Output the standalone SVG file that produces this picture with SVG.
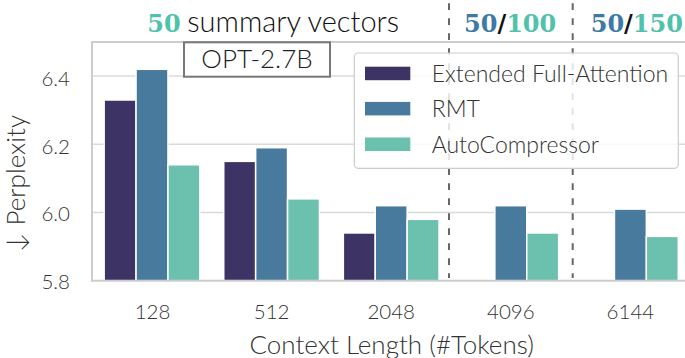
<svg xmlns="http://www.w3.org/2000/svg" width="685" height="358" viewBox="0 0 685 358">
<style>
.grid{stroke:#dadada;stroke-width:1.5;fill:none}
.spine{stroke:#cccccc;stroke-width:2;fill:none}
.sep{stroke:#666666;stroke-width:2;stroke-dasharray:6.7 8.3;fill:none}
.bar{stroke:#ffffff;stroke-width:1.5}
.efa{fill:#3d3465}
.rmt{fill:#487a9e}
.ac{fill:#6cc0ae}
.sans{font-family:Lato,"Open Sans",sans-serif;font-weight:300}
.tick{font-size:20.5px;fill:#333333}
.lab{font-size:26px;fill:#333333}
.leg{font-size:23px;fill:#333333}
.ttl{font-size:29px;fill:#111111}
.num{font-family:"DejaVu Serif",serif;font-weight:bold;font-size:24px}
.tl{fill:#50c2ac}
.bl{fill:#3e7aa6}
</style>
<rect width="685" height="358" fill="#ffffff"/>
<g id="grid">
<line class="grid" x1="92" y1="76.1" x2="685" y2="76.1"/>
<line class="grid" x1="92" y1="144.3" x2="685" y2="144.3"/>
<line class="grid" x1="92" y1="212.5" x2="685" y2="212.5"/>
</g>
<g id="bars-efa">
<rect class="bar efa" x="104.15" y="100.0" width="31.9" height="180.7"/>
<rect class="bar efa" x="223.75" y="161.35" width="31.9" height="119.35"/>
<rect class="bar efa" x="343.35" y="232.96" width="31.9" height="47.74"/>
</g>
<g id="bars-rmt">
<rect class="bar rmt" x="136.05" y="69.28" width="31.9" height="211.42"/>
<rect class="bar rmt" x="255.65" y="147.71" width="31.9" height="132.99"/>
<rect class="bar rmt" x="375.25" y="205.68" width="31.9" height="75.02"/>
<rect class="bar rmt" x="494.85" y="205.68" width="31.9" height="75.02"/>
<rect class="bar rmt" x="614.45" y="209.09" width="31.9" height="71.61"/>
</g>
<g id="bars-ac">
<rect class="bar ac" x="167.95" y="164.76" width="31.9" height="115.94"/>
<rect class="bar ac" x="287.55" y="198.86" width="31.9" height="81.84"/>
<rect class="bar ac" x="407.15" y="219.32" width="31.9" height="61.38"/>
<rect class="bar ac" x="526.75" y="232.96" width="31.9" height="47.74"/>
<rect class="bar ac" x="646.35" y="236.37" width="31.9" height="44.33"/>
</g>
<g id="connectors">
<line class="sep" x1="449" y1="3.3" x2="449" y2="278"/>
<line class="sep" x1="572.7" y1="3.3" x2="572.7" y2="278"/>
</g>
<g id="axes">
<line class="spine" x1="92" y1="42" x2="685" y2="42"/>
<line class="spine" x1="92" y1="41" x2="92" y2="281.7"/>
<line class="spine" x1="91" y1="280.7" x2="685" y2="280.7"/>
</g>
<g id="yticks" class="sans tick" text-anchor="end">
<text x="70" y="86">6.4</text>
<text x="70" y="153.8">6.2</text>
<text x="70" y="221.2">6.0</text>
<text x="70" y="289.4">5.8</text>
</g>
<g id="xticks" class="sans tick" text-anchor="middle">
<text x="152.5" y="319.3">128</text>
<text x="271.6" y="319.3">512</text>
<text x="391.2" y="319.3">2048</text>
<text x="510.8" y="319.3">4096</text>
<text x="630.4" y="319.3">6144</text>
</g>
<g id="ylabel">
<text class="sans lab" text-anchor="middle" transform="translate(25 183.5) rotate(-90)">↓ Perplexity</text>
</g>
<g id="xlabel">
<text class="sans lab" x="391.7" y="353.5" text-anchor="middle">Context Length (#Tokens)</text>
</g>
<g id="title">
<text class="num tl" x="147.3" y="31.7">50</text>
<text class="sans ttl" x="187.3" y="31.7">summary vectors</text>
</g>
<g id="title-4096">
<text class="num" x="464" y="31.7"><tspan class="bl">50</tspan><tspan fill="#111111">/</tspan><tspan class="tl">100</tspan></text>
</g>
<g id="title-6144">
<text class="num" x="590.7" y="31.7"><tspan class="bl">50</tspan><tspan fill="#111111">/</tspan><tspan class="tl">150</tspan></text>
</g>
<g id="model-box">
<rect x="184" y="42.3" width="146" height="34.4" fill="#ffffff" stroke="#777777" stroke-width="2"/>
<text class="sans" x="257" y="68.3" text-anchor="middle" font-size="26" fill="#222222">OPT-2.7B</text>
</g>
<g id="legend">
<rect x="354.3" y="53" width="324" height="115.3" rx="4" fill="#ffffff" fill-opacity="0.82" stroke="#cccccc" stroke-width="1.2"/>
<rect class="efa" x="365" y="66.7" width="45.3" height="13.5"/>
<rect class="rmt" x="365" y="101.9" width="45.3" height="13.5"/>
<rect class="ac" x="365" y="137.5" width="45.3" height="13.5"/>
<text class="sans leg" x="431.7" y="81.6">Extended Full-Attention</text>
<text class="sans leg" x="431.7" y="117">RMT</text>
<text class="sans leg" x="431.7" y="152.6">AutoCompressor</text>
</g>
</svg>
